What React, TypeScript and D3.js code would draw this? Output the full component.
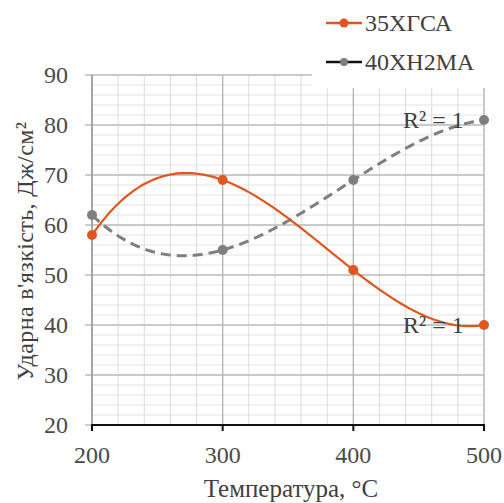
import React from 'react';
import * as d3 from 'd3';

// chart values
const temps = [200, 300, 400, 500];
const steel35 = [58, 69, 51, 40];
const steel40 = [62, 55, 69, 81];
const xTicks = [200, 300, 400, 500];
const yTicks = [20, 30, 40, 50, 60, 70, 80, 90];

const W = 504;
const H = 503;
const margin = { top: 75, right: 20, bottom: 78, left: 92 };

const ORANGE = '#e0561f';
const GRAY = '#7f7f7f';
const FONT = 'Liberation Serif, DejaVu Serif, serif';

// polynomial trendline (order 3) through the points, like the spreadsheet does
function polyTrend(xs: number[], ys: number[]) {
  return (x: number) =>
    ys.reduce((sum, yi, i) => {
      let term = yi;
      xs.forEach((xj, j) => {
        if (j !== i) term *= (x - xj) / (xs[i] - xj);
      });
      return sum + term;
    }, 0);
}

export default function App() {
  const x = d3.scaleLinear().domain([200, 500]).range([margin.left, W - margin.right]);
  const y = d3.scaleLinear().domain([20, 90]).range([H - margin.bottom, margin.top]);

  const minorX = d3.range(200, 501, 20);
  const minorY = d3.range(20, 91, 2);

  const samples = d3.range(200, 500.01, 2);
  const trend = (vals: number[]) => {
    const f = polyTrend(temps, vals);
    return d3.line<number>().x(t => x(t)).y(t => y(f(t)))(samples) || '';
  };

  return (
    <svg width={W} height={H} style={{ position: 'absolute', left: 0, top: 0, background: '#fff' }}>
      {/* minor grid */}
      {minorY.map(v => (
        <line key={'my' + v} x1={x(200)} x2={x(500)} y1={y(v)} y2={y(v)} stroke="#e3e3e3" strokeWidth={1} />
      ))}
      {minorX.map(v => (
        <line key={'mx' + v} x1={x(v)} x2={x(v)} y1={y(20)} y2={y(90)} stroke="#dcdcdc" strokeWidth={1} />
      ))}
      {/* major grid */}
      {yTicks.map(v => (
        <line key={'gy' + v} x1={x(200) - 7} x2={x(500)} y1={y(v)} y2={y(v)} stroke="#bdbdbd" strokeWidth={1.3} />
      ))}
      {xTicks.map(v => (
        <line key={'gx' + v} x1={x(v)} x2={x(v)} y1={y(20)} y2={y(90)} stroke="#b5b5b5" strokeWidth={1.3} />
      ))}
      {/* left axis */}
      <line x1={x(200)} x2={x(200)} y1={y(20)} y2={y(90)} stroke="#9a9a9a" strokeWidth={1.5} />

      {/* legend box hides the top right of the grid */}
      <rect x={312} y={0} width={W - 312} height={88} fill="#fff" />

      {/* bottom axis */}
      <line x1={x(200) - 1} x2={x(500) + 1} y1={y(20)} y2={y(20)} stroke="#111" strokeWidth={2} />
      {xTicks.map(v => (
        <line key={'tx' + v} x1={x(v)} x2={x(v)} y1={y(20)} y2={y(20) + 6} stroke="#111" strokeWidth={2} />
      ))}

      {/* tick labels */}
      {yTicks.map(v => (
        <text key={'ly' + v} x={x(200) - 24} y={y(v)} dy="0.35em" textAnchor="end" fontFamily={FONT} fontSize={24} fill="#4a4a4a">
          {v}
        </text>
      ))}
      {xTicks.map(v => (
        <text key={'lx' + v} x={x(v)} y={y(20) + 38} textAnchor="middle" fontFamily={FONT} fontSize={24} fill="#4a4a4a">
          {v}
        </text>
      ))}

      {/* axis titles */}
      <text
        transform={`translate(33,251) rotate(-90)`}
        textAnchor="middle"
        fontFamily={FONT}
        fontSize={24}
        letterSpacing={0.4}
        fill="#404040"
      >
        Ударна в'язкість, Дж/см²
      </text>
      <text x={291} y={497} textAnchor="middle" fontFamily={FONT} fontSize={25} fill="#404040">
        Температура, °C
      </text>

      {/* trendlines */}
      <path d={trend(steel40)} fill="none" stroke={GRAY} strokeWidth={3} strokeDasharray="10,6" />
      <path d={trend(steel35)} fill="none" stroke={ORANGE} strokeWidth={2.2} />

      {/* points */}
      {temps.map((t, i) => (
        <circle key={'p40' + i} cx={x(t)} cy={y(steel40[i])} r={5} fill={GRAY} />
      ))}
      {temps.map((t, i) => (
        <circle key={'p35' + i} cx={x(t)} cy={y(steel35[i])} r={5} fill={ORANGE} />
      ))}

      {/* R² labels */}
      <text x={403} y={y(81) + 8} fontFamily={FONT} fontSize={24} fill="#404040">R² = 1</text>
      <text x={403} y={y(40) + 8} fontFamily={FONT} fontSize={24} fill="#404040">R² = 1</text>

      {/* legend */}
      <line x1={326} x2={362} y1={23} y2={23} stroke={ORANGE} strokeWidth={2.5} />
      <circle cx={344} cy={23} r={4.5} fill={ORANGE} />
      <text x={365} y={31} fontFamily={FONT} fontSize={24} fill="#404040">35ХГСА</text>
      <line x1={326} x2={362} y1={62} y2={62} stroke="#111" strokeWidth={2.5} />
      <circle cx={344} cy={62} r={4} fill={GRAY} />
      <text x={365} y={70} fontFamily={FONT} fontSize={24} fill="#404040">40ХН2МА</text>
    </svg>
  );
}
